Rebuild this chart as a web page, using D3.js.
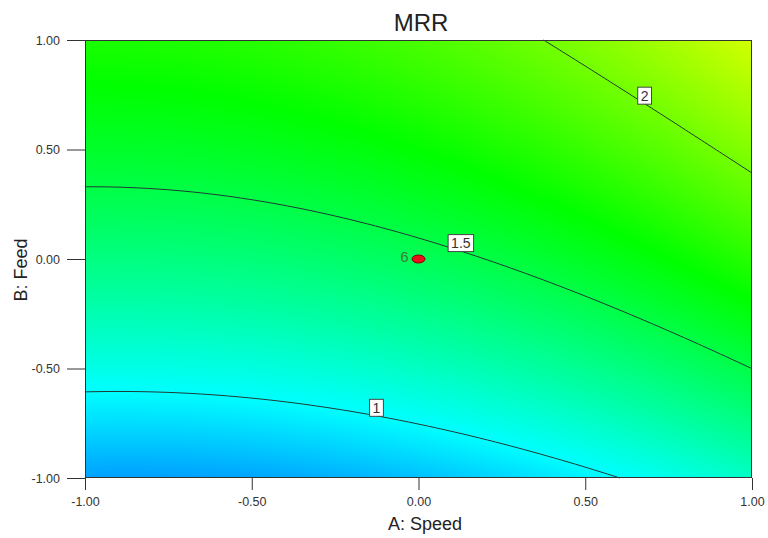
<!DOCTYPE html>
<html><head><meta charset="utf-8">
<script src="https://cdn.jsdelivr.net/npm/d3@7"></script>
<style>body{margin:0;background:#fff;} svg{display:block;font-family:Arial,"Liberation Sans",sans-serif;}</style>
</head><body><svg id="chart" width="768" height="538"></svg>
<script>
// ---- data (coded factor levels) ----
const speedNodes = [-1, 0, 1];
const feedNodes = [-1, 0, 1];
// MRR at the grid nodes: one array per Speed level, values for Feed = -1, 0, 1
const mrrSpeedLow  = [0.743, 1.342, 1.761];
const mrrSpeedMid  = [0.831, 1.450, 1.890];
const mrrSpeedHigh = [1.158, 1.798, 2.258];
const contourLevels = [1, 1.5, 2];
const contourLabelText = ["1", "1.5", "2"];
const contourLabelSpeed = [-0.126, 0.127, 0.678];
const designPointSpeed = [0];
const designPointFeed = [0];
const designPointCount = ["6"];
const tickValues = [-1, -0.5, 0, 0.5, 1];
const colorStops = [0.31, 1.0, 1.69, 2.38, 3.07];
const colorNames = ["#0000ff", "#00ffff", "#00ff00", "#ffff00", "#ff0000"];

const grid = [mrrSpeedLow, mrrSpeedMid, mrrSpeedHigh];

function lagrange(nodes, t) {
  return nodes.map((ni, i) => {
    let w = 1;
    nodes.forEach((nj, j) => { if (j !== i) w *= (t - nj) / (ni - nj); });
    return w;
  });
}
function mrr(a, b) {
  const wa = lagrange(speedNodes, a), wb = lagrange(feedNodes, b);
  let s = 0;
  for (let i = 0; i < speedNodes.length; i++)
    for (let j = 0; j < feedNodes.length; j++) s += wa[i] * wb[j] * grid[i][j];
  return s;
}

const svg = d3.select("#chart");
const L = 85, T = 40, R = 752, B = 478;
const W = R - L, H = B - T;
const x = d3.scaleLinear().domain([-1, 1]).range([L, R]);
const y = d3.scaleLinear().domain([-1, 1]).range([B, T]);
const color = d3.scaleLinear().domain(colorStops).range(colorNames).interpolate(d3.interpolateRgb).clamp(true);

// ---- filled gradient raster ----
const canvas = document.createElement("canvas");
canvas.width = W; canvas.height = H;
const ctx = canvas.getContext("2d");
const img = ctx.createImageData(W, H);
const lut = d3.range(1024).map(k => d3.rgb(color(colorStops[0] + (colorStops[4] - colorStops[0]) * k / 1023)));
for (let py = 0; py < H; py++) {
  const b = y.invert(T + py + 0.5);
  for (let px = 0; px < W; px++) {
    const a = x.invert(L + px + 0.5);
    const v = mrr(a, b);
    let k = Math.round((v - colorStops[0]) / (colorStops[4] - colorStops[0]) * 1023);
    k = Math.max(0, Math.min(1023, k));
    const c = lut[k], o = (py * W + px) * 4;
    img.data[o] = c.r; img.data[o + 1] = c.g; img.data[o + 2] = c.b; img.data[o + 3] = 255;
  }
}
ctx.putImageData(img, 0, 0);
svg.append("image").attr("x", L).attr("y", T).attr("width", W).attr("height", H)
  .attr("href", canvas.toDataURL());

// ---- contour lines (marching squares) ----
const step = 2;
const nx = Math.floor(W / step) + 1, ny = Math.floor(H / step) + 1;
const vals = [];
for (let j = 0; j < ny; j++) {
  const row = [];
  const py = Math.min(B, T + j * step);
  for (let i = 0; i < nx; i++) {
    const px = Math.min(R, L + i * step);
    row.push({px, py, v: mrr(x.invert(px), y.invert(py))});
  }
  vals.push(row);
}
const gLines = svg.append("g");
contourLevels.forEach(th => {
  let d = "";
  for (let j = 0; j < ny - 1; j++) for (let i = 0; i < nx - 1; i++) {
    const c = [vals[j][i], vals[j][i + 1], vals[j + 1][i + 1], vals[j + 1][i]];
    const pts = [];
    for (let e = 0; e < 4; e++) {
      const p = c[e], q = c[(e + 1) % 4];
      if ((p.v < th) !== (q.v < th)) {
        const t = (th - p.v) / (q.v - p.v);
        pts.push([p.px + t * (q.px - p.px), p.py + t * (q.py - p.py)]);
      }
    }
    for (let k = 0; k + 1 < pts.length; k += 2)
      d += `M${pts[k][0].toFixed(2)},${pts[k][1].toFixed(2)}L${pts[k + 1][0].toFixed(2)},${pts[k + 1][1].toFixed(2)}`;
  }
  gLines.append("path").attr("d", d).attr("fill", "none")
    .attr("stroke", "#1f3a35").attr("stroke-width", 1);
});

// ---- frame ----
svg.append("rect").attr("x", L + 0.5).attr("y", T + 0.5).attr("width", W - 1).attr("height", H - 1)
  .attr("fill", "none").attr("stroke", "#333").attr("stroke-width", 1);

// ---- contour labels ----
function feedOnContour(a, level) {
  let lo = -1, hi = 1;
  for (let k = 0; k < 50; k++) {
    const m = (lo + hi) / 2;
    if (mrr(a, m) < level) lo = m; else hi = m;
  }
  return (lo + hi) / 2;
}
const gLab = svg.append("g");
contourLevels.forEach((lv, i) => {
  const a = contourLabelSpeed[i];
  const cx = x(a), cy = y(feedOnContour(a, lv)) - 8;
  const g = gLab.append("g").attr("transform", `translate(${cx},${cy})`);
  const t = g.append("text").attr("text-anchor", "middle").attr("dy", "0.36em")
    .attr("font-size", 14).attr("fill", "#333").text(contourLabelText[i]);
  const w = t.node().getComputedTextLength() + 6;
  g.insert("rect", "text").attr("x", -w / 2).attr("y", -8.5).attr("width", w).attr("height", 17)
    .attr("fill", "#fff").attr("stroke", "#444").attr("stroke-width", 1);
});

// ---- design point ----
designPointSpeed.forEach((a, i) => {
  svg.append("ellipse").attr("cx", x(a)).attr("cy", y(designPointFeed[i]))
    .attr("rx", 6.5).attr("ry", 4).attr("fill", "#e8101a").attr("stroke", "#8a0000").attr("stroke-width", 1);
  svg.append("text").attr("x", x(a) - 10).attr("y", y(designPointFeed[i]) - 2).attr("dy", "0.36em")
    .attr("text-anchor", "end").attr("font-size", 15).attr("fill", "#3d7a3d").text(designPointCount[i]);
});

// ---- axes ----
const fmt = d => d.toFixed(2);
const ax = svg.append("g").attr("transform", `translate(0,${B})`)
  .call(d3.axisBottom(x).tickValues(tickValues).tickFormat(fmt).tickSize(12).tickSizeOuter(0).tickPadding(7));
const ay = svg.append("g").attr("transform", `translate(${L},0)`)
  .call(d3.axisLeft(y).tickValues(tickValues).tickFormat(fmt).tickSize(18).tickSizeOuter(0).tickPadding(7));
[ax, ay].forEach(g => {
  g.select(".domain").remove();
  g.selectAll("line").attr("stroke", "#333");
  g.selectAll("text").attr("font-size", 12.5).attr("fill", "#333").attr("font-family", "Arial, 'Liberation Sans', sans-serif");
});

// ---- titles ----
svg.append("text").attr("x", 421).attr("y", 31).attr("text-anchor", "middle")
  .attr("font-size", 24).attr("fill", "#222").text("MRR");
svg.append("text").attr("x", 425).attr("y", 530).attr("text-anchor", "middle")
  .attr("font-size", 18).attr("fill", "#222").text("A: Speed");
svg.append("text").attr("transform", "translate(27,270) rotate(-90)").attr("text-anchor", "middle")
  .attr("font-size", 18).attr("fill", "#222").text("B: Feed");
</script></body></html>
